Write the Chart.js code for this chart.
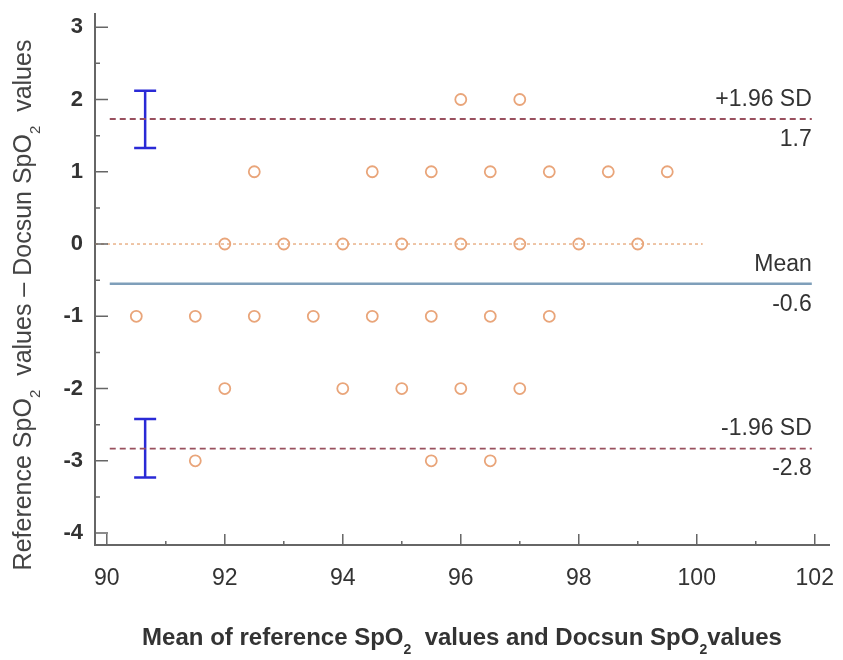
<!DOCTYPE html>
<html>
<head>
<meta charset="utf-8">
<script src="https://cdn.jsdelivr.net/npm/chart.js@4.4.1/dist/chart.umd.min.js"></script>
<style>
  html, body { margin: 0; padding: 0; background: #fff; }
  #wrap { width: 843px; height: 660px; }
</style>
</head>
<body>
<div id="wrap"><canvas id="baChart" width="843" height="660"></canvas></div>
<script>
// Bland-Altman points: mean (x) and difference (y)
const meanValues = [96, 97,
    92.5, 94.5, 95.5, 96.5, 97.5, 98.5, 99.5,
    92, 93, 94, 95, 96, 97, 98, 99,
    90.5, 91.5, 92.5, 93.5, 94.5, 95.5, 96.5, 97.5,
    92, 94, 95, 96, 97,
    91.5, 95.5, 96.5];
const diffValues = [2, 2,
    1, 1, 1, 1, 1, 1, 1,
    0, 0, 0, 0, 0, 0, 0, 0,
    -1, -1, -1, -1, -1, -1, -1, -1,
    -2, -2, -2, -2, -2,
    -3, -3, -3];

const meanDiff = -0.55;
const upperLoA = 1.73;
const lowerLoA = -2.83;
const upperCI = [1.33, 2.12];
const lowerCI = [-3.23, -2.42];
const ciX = 90.65;
const zeroLineX = [89.8, 100.1];
const lineX = [90.05, 101.95];

const xTicks = [90, 92, 94, 96, 98, 100, 102];
const yTicks = [-4, -3, -2, -1, 0, 1, 2, 3];

const xMin = 89.8, xMax = 102.25;
const yMin = -4.165, yMax = 3.19;

// axis titles as [text, isSubscript] pieces
const xTitle = [['Mean of reference SpO', false], ['2', true], ['  values and Docsun SpO', false], ['2', true], ['values', false]];
const yTitle = [['Reference SpO', false], ['2', true], ['  values \u2013 Docsun SpO', false], ['2', true], ['  values', false]];

const FONT = '"Liberation Sans", Arial, sans-serif';

document.addEventListener('DOMContentLoaded', function() {
    renderBlandAltman();
});

function hline(y, xs) {
    return xs.map(x => ({ x: x, y: y }));
}

function drawRich(ctx, segs, cx, baseY, size, weight, color) {
    const subSize = Math.round(size * 0.6);
    const fonts = segs.map(s => (weight ? weight + ' ' : '') + (s[1] ? subSize : size) + 'px ' + FONT);
    let total = 0;
    const widths = segs.map((s, i) => {
        ctx.font = fonts[i];
        const w = ctx.measureText(s[0]).width;
        total += w;
        return w;
    });
    let x = cx - total / 2;
    ctx.fillStyle = color;
    ctx.textAlign = 'left';
    ctx.textBaseline = 'alphabetic';
    segs.forEach((s, i) => {
        ctx.font = fonts[i];
        ctx.fillText(s[0], x, s[1] ? baseY + 9 : baseY);
        x += widths[i];
    });
}

// inward tick marks, limit line labels and axis titles
const decorPlugin = {
    id: 'decor',
    afterDatasetsDraw(chart) {
        const ctx = chart.ctx;
        const xs = chart.scales.x, ys = chart.scales.y;
        const area = chart.chartArea;
        ctx.save();
        ctx.strokeStyle = '#666';
        ctx.lineWidth = 1.5;
        ctx.beginPath();
        for (let v = 90; v <= 102; v += 1) {
            const px = xs.getPixelForValue(v);
            const len = v % 2 === 0 ? 11 : 4;
            ctx.moveTo(px, area.bottom);
            ctx.lineTo(px, area.bottom - len);
        }
        for (let v = -4; v <= 3; v += 0.5) {
            const py = ys.getPixelForValue(v);
            const len = Number.isInteger(v) ? 13 : 5;
            ctx.moveTo(area.left, py);
            ctx.lineTo(area.left + len, py);
        }
        ctx.stroke();

        ctx.fillStyle = '#333';
        ctx.font = '23px ' + FONT;
        ctx.textAlign = 'right';
        const rx = xs.getPixelForValue(101.95);
        const labels = [
            [upperLoA, '+1.96 SD', '1.7'],
            [meanDiff, 'Mean', '-0.6'],
            [lowerLoA, '-1.96 SD', '-2.8']
        ];
        labels.forEach(l => {
            const py = ys.getPixelForValue(l[0]);
            ctx.textBaseline = 'bottom';
            ctx.fillText(l[1], rx, py - 8);
            ctx.textBaseline = 'top';
            ctx.fillText(l[2], rx, py + 9);
        });

        drawRich(ctx, xTitle, 462, 645, 24, 'bold', '#333');
        ctx.translate(22, 305);
        ctx.rotate(-Math.PI / 2);
        drawRich(ctx, yTitle, 0, 9, 25, '', '#444');
        ctx.restore();
    }
};

function renderBlandAltman() {
    const ctx = document.getElementById('baChart').getContext('2d');
    const points = meanValues.map((m, i) => ({ x: m, y: diffValues[i] }));
    new Chart(ctx, {
        type: 'scatter',
        data: {
            datasets: [
                {
                    label: 'Zero',
                    type: 'line',
                    data: hline(0, zeroLineX),
                    borderColor: '#e6a678',
                    borderWidth: 1.3,
                    borderDash: [3, 3],
                    pointRadius: 0
                },
                {
                    label: 'Mean',
                    type: 'line',
                    data: hline(meanDiff, lineX),
                    borderColor: '#7f9fba',
                    borderWidth: 2.5,
                    pointRadius: 0
                },
                {
                    label: '+1.96 SD',
                    type: 'line',
                    data: hline(upperLoA, lineX),
                    borderColor: '#99505e',
                    borderWidth: 1.8,
                    borderDash: [6, 4],
                    pointRadius: 0
                },
                {
                    label: '-1.96 SD',
                    type: 'line',
                    data: hline(lowerLoA, lineX),
                    borderColor: '#99505e',
                    borderWidth: 1.8,
                    borderDash: [6, 4],
                    pointRadius: 0
                },
                {
                    label: 'Upper CI',
                    type: 'line',
                    data: upperCI.map(v => ({ x: ciX, y: v })),
                    borderColor: '#2a2ad6',
                    borderWidth: 2.5,
                    pointStyle: 'line',
                    pointRadius: 11,
                    pointBorderWidth: 2.5,
                    pointBorderColor: '#2a2ad6'
                },
                {
                    label: 'Lower CI',
                    type: 'line',
                    data: lowerCI.map(v => ({ x: ciX, y: v })),
                    borderColor: '#2a2ad6',
                    borderWidth: 2.5,
                    pointStyle: 'line',
                    pointRadius: 11,
                    pointBorderWidth: 2.5,
                    pointBorderColor: '#2a2ad6'
                },
                {
                    label: 'Differences',
                    data: points,
                    pointStyle: 'circle',
                    pointRadius: 5.5,
                    pointBorderWidth: 1.8,
                    pointBorderColor: '#e9a57a',
                    pointBackgroundColor: 'rgba(255,255,255,0)'
                }
            ]
        },
        options: {
            responsive: false,
            animation: false,
            layout: { padding: { top: -3, right: 2, left: 0, bottom: 0 } },
            plugins: {
                legend: { display: false },
                tooltip: { enabled: false }
            },
            scales: {
                x: {
                    type: 'linear',
                    min: xMin,
                    max: xMax,
                    afterBuildTicks: s => { s.ticks = xTicks.map(v => ({ value: v })); },
                    afterFit: s => { s.height = 115; },
                    grid: { display: false, drawTicks: true, tickLength: 20 },
                    border: { display: true, color: '#666', width: 2 },
                    ticks: {
                        color: '#333',
                        padding: 0,
                        font: { family: FONT, size: 23 }
                    }
                },
                y: {
                    type: 'linear',
                    min: yMin,
                    max: yMax,
                    afterBuildTicks: s => { s.ticks = yTicks.map(v => ({ value: v })); },
                    afterFit: s => { s.width = 95; },
                    grid: { display: false, drawTicks: true, tickLength: 12 },
                    border: { display: true, color: '#666', width: 2 },
                    ticks: {
                        color: '#333',
                        padding: 0,
                        font: { family: FONT, size: 22, weight: 'bold' }
                    }
                }
            }
        },
        plugins: [decorPlugin]
    });
}
</script>
</body>
</html>
